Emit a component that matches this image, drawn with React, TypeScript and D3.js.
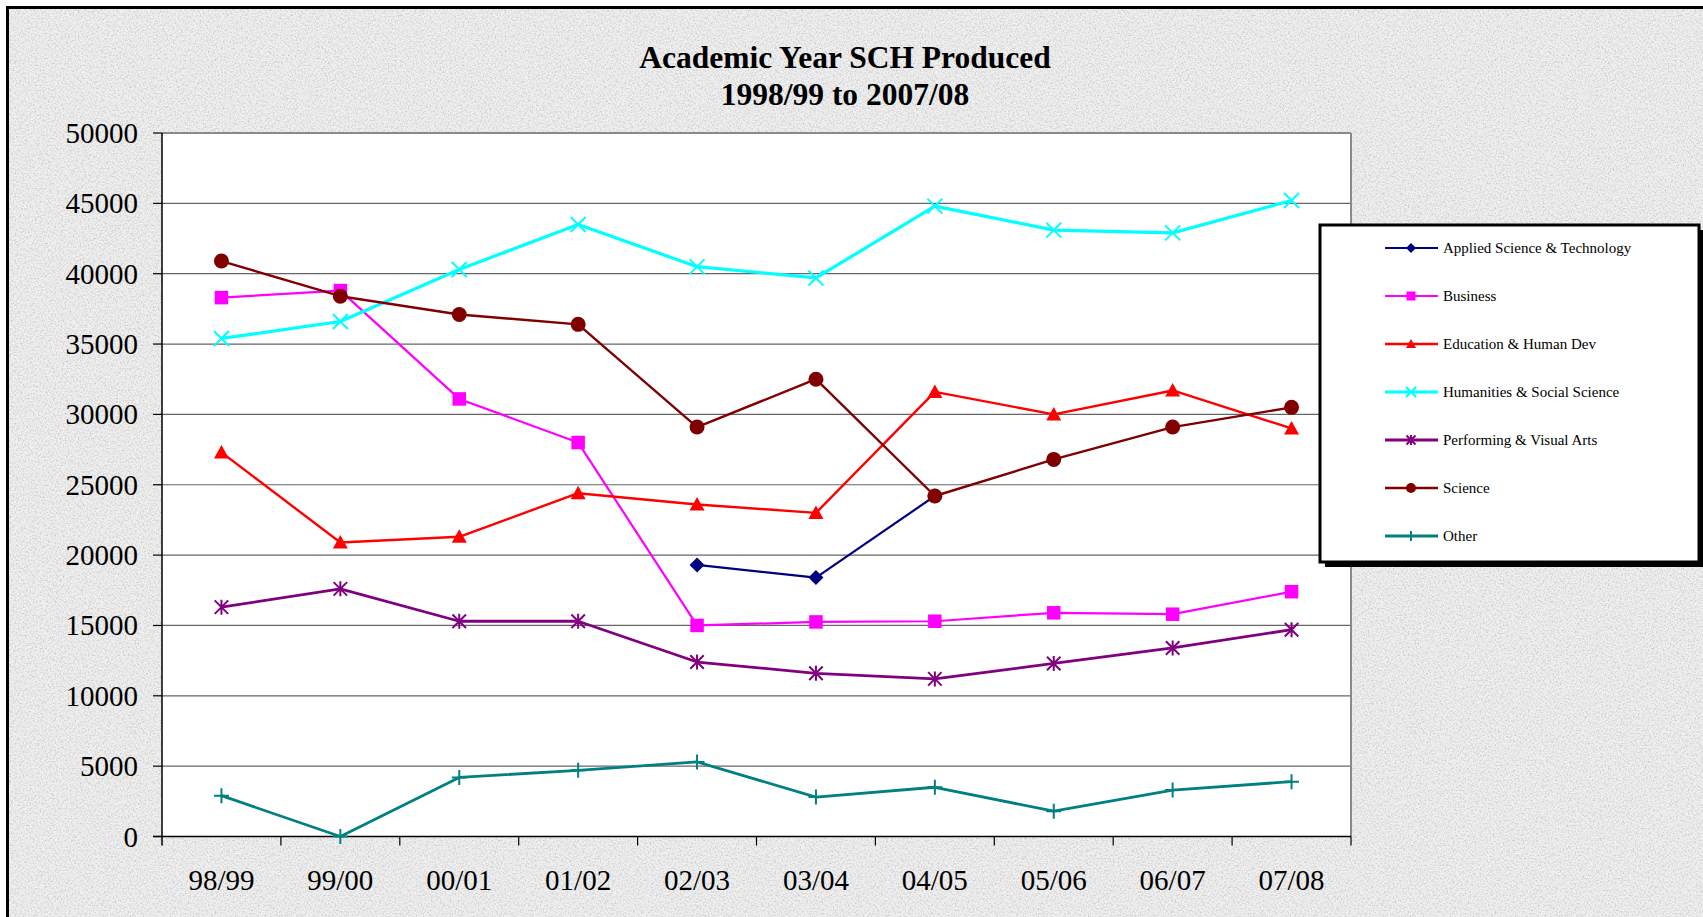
import React from 'react';
import * as d3 from 'd3';

const categories = ['98/99', '99/00', '00/01', '01/02', '02/03', '03/04', '04/05', '05/06', '06/07', '07/08'];
const yTicks = [0, 5000, 10000, 15000, 20000, 25000, 30000, 35000, 40000, 45000, 50000];

const appliedScience = [null, null, null, null, 19300, 18400, 24200, null, null, null];
const business = [38300, 38800, 31100, 28000, 15000, 15250, 15300, 15900, 15800, 17400];
const education = [27300, 20900, 21300, 24400, 23600, 23000, 31600, 30000, 31700, 29000];
const humanities = [35400, 36600, 40300, 43500, 40500, 39700, 44800, 43100, 42900, 45200];
const performing = [16300, 17600, 15300, 15300, 12400, 11600, 11200, 12300, 13400, 14700];
const science = [40900, 38400, 37100, 36400, 29100, 32500, 24200, 26800, 29100, 30500];
const other = [2900, 0, 4200, 4700, 5300, 2800, 3500, 1800, 3300, 3900];

const series = [
  { name: 'Applied Science & Technology', values: appliedScience, color: '#000080', shape: 'diamond', width: 2.2 },
  { name: 'Business', values: business, color: '#ff00ff', shape: 'square', width: 2.2 },
  { name: 'Education & Human Dev', values: education, color: '#ff0000', shape: 'triangle', width: 2.4 },
  { name: 'Humanities & Social Science', values: humanities, color: '#00ffff', shape: 'x', width: 3.2 },
  { name: 'Performing & Visual Arts', values: performing, color: '#800080', shape: 'asterisk', width: 2.8 },
  { name: 'Science', values: science, color: '#800000', shape: 'circle', width: 2.4 },
  { name: 'Other', values: other, color: '#008080', shape: 'plus', width: 2.8 },
];

const W = 1703;
const H = 917;
const plot = { left: 162, right: 1351, top: 133, bottom: 836.5 };
const FONT = '"Liberation Serif", "Times New Roman", serif';

function Marker({ shape, cx, cy, color, s }: { shape: string; cx: number; cy: number; color: string; s: number }) {
  switch (shape) {
    case 'diamond':
      return <path d={`M${cx},${cy - s}L${cx + s},${cy}L${cx},${cy + s}L${cx - s},${cy}Z`} fill={color} />;
    case 'square':
      return <rect x={cx - s * 0.9} y={cy - s * 0.9} width={s * 1.8} height={s * 1.8} fill={color} />;
    case 'triangle':
      return <path d={`M${cx},${cy - s}L${cx + s},${cy + s * 0.8}L${cx - s},${cy + s * 0.8}Z`} fill={color} />;
    case 'circle':
      return <circle cx={cx} cy={cy} r={s} fill={color} />;
    case 'x':
      return (
        <path d={`M${cx - s},${cy - s}L${cx + s},${cy + s}M${cx - s},${cy + s}L${cx + s},${cy - s}`} stroke={color} strokeWidth={2} />
      );
    case 'asterisk':
      return (
        <path
          d={`M${cx - s * 0.9},${cy - s * 0.9}L${cx + s * 0.9},${cy + s * 0.9}M${cx - s * 0.9},${cy + s * 0.9}L${cx + s * 0.9},${cy - s * 0.9}M${cx},${cy - s}L${cx},${cy + s}`}
          stroke={color}
          strokeWidth={2}
        />
      );
    case 'plus':
      return <path d={`M${cx - s},${cy}L${cx + s},${cy}M${cx},${cy - s}L${cx},${cy + s}`} stroke={color} strokeWidth={2} />;
    default:
      return null;
  }
}

const App = () => {
  const x = d3.scaleBand().domain(categories).range([plot.left, plot.right]).padding(0);
  const y = d3.scaleLinear().domain([0, 50000]).range([plot.bottom, plot.top]);
  const cx = (c: string) => (x(c) as number) + x.bandwidth() / 2;

  const line = d3
    .line<number | null>()
    .defined((v) => v != null)
    .x((_, i) => cx(categories[i]))
    .y((v) => y(v as number));

  const legend = { left: 1320, top: 225, right: 1699, bottom: 562 };
  const legendRowY = (i: number) => 248 + i * 48;

  return (
    <svg width={W} height={H} style={{ position: 'absolute', left: 0, top: 0 }} fontFamily={FONT}>
      <defs>
        <filter id="granite" x="0" y="0" width="100%" height="100%">
          <feTurbulence type="fractalNoise" baseFrequency="0.6" numOctaves="3" seed="7" />
          <feColorMatrix type="matrix" values="0 0 0 0 0.5  0 0 0 0 0.5  0 0 0 0 0.5  1.7 0 0 0 -0.72" />
        </filter>
      </defs>
      <rect x={0} y={0} width={W} height={H} fill="#ffffff" />
      <rect x={9} y={9} width={W} height={H} fill="#f0f0f0" />
      <rect x={9} y={9} width={W} height={H} filter="url(#granite)" />
      <rect x={7.5} y={7.5} width={W + 20} height={H + 20} fill="none" stroke="#000" strokeWidth={3} />

      {/* title */}
      <text x={845} y={68} textAnchor="middle" fontSize={31.5} fontWeight="bold">
        Academic Year SCH Produced
      </text>
      <text x={845} y={105} textAnchor="middle" fontSize={31.5} fontWeight="bold">
        1998/99 to 2007/08
      </text>

      {/* plot area */}
      <rect x={plot.left} y={plot.top} width={plot.right - plot.left} height={plot.bottom - plot.top} fill="#fff" />
      {yTicks.slice(1, -1).map((t) => (
        <line key={t} x1={plot.left} x2={plot.right} y1={y(t)} y2={y(t)} stroke="#666" strokeWidth={1.2} />
      ))}
      <line x1={plot.left} x2={plot.right} y1={plot.top} y2={plot.top} stroke="#8a8a8a" strokeWidth={2} />
      <line x1={plot.right} x2={plot.right} y1={plot.top} y2={plot.bottom} stroke="#8a8a8a" strokeWidth={2} />
      <line x1={plot.left} x2={plot.left} y1={plot.top} y2={plot.bottom + 9} stroke="#000" strokeWidth={1.5} />
      <line x1={plot.left - 9} x2={plot.right} y1={plot.bottom} y2={plot.bottom} stroke="#000" strokeWidth={1.5} />

      {/* y axis */}
      {yTicks.map((t) => (
        <g key={t}>
          <line x1={plot.left - 9} x2={plot.left} y1={y(t)} y2={y(t)} stroke="#000" strokeWidth={1.2} />
          <text x={138} y={y(t) + 10} textAnchor="end" fontSize={29}>
            {t}
          </text>
        </g>
      ))}

      {/* x axis */}
      {categories.map((c) => (
        <g key={c}>
          <line
            x1={(x(c) as number) + x.bandwidth()}
            x2={(x(c) as number) + x.bandwidth()}
            y1={plot.bottom}
            y2={plot.bottom + 9}
            stroke="#000"
            strokeWidth={1.2}
          />
          <text x={cx(c)} y={890} textAnchor="middle" fontSize={29}>
            {c}
          </text>
        </g>
      ))}

      {/* series */}
      {series.map((s) => (
        <g key={s.name}>
          <path d={line(s.values) || ''} fill="none" stroke={s.color} strokeWidth={s.width} strokeLinejoin="round" />
          {s.values.map((v, i) =>
            v == null ? null : <Marker key={i} shape={s.shape} cx={cx(categories[i])} cy={y(v)} color={s.color} s={7.5} />
          )}
        </g>
      ))}

      {/* legend */}
      <rect x={legend.left + 5} y={legend.top + 5} width={legend.right - legend.left} height={legend.bottom - legend.top} fill="#000" />
      <rect
        x={legend.left}
        y={legend.top}
        width={legend.right - legend.left}
        height={legend.bottom - legend.top}
        fill="#fff"
        stroke="#000"
        strokeWidth={3}
      />
      {series.map((s, i) => (
        <g key={s.name}>
          <line x1={1385} x2={1438} y1={legendRowY(i)} y2={legendRowY(i)} stroke={s.color} strokeWidth={s.width} />
          <Marker shape={s.shape} cx={1411} cy={legendRowY(i)} color={s.color} s={5} />
          <text x={1443} y={legendRowY(i) + 5} fontSize={15}>
            {s.name}
          </text>
        </g>
      ))}
    </svg>
  );
};

export default App;
